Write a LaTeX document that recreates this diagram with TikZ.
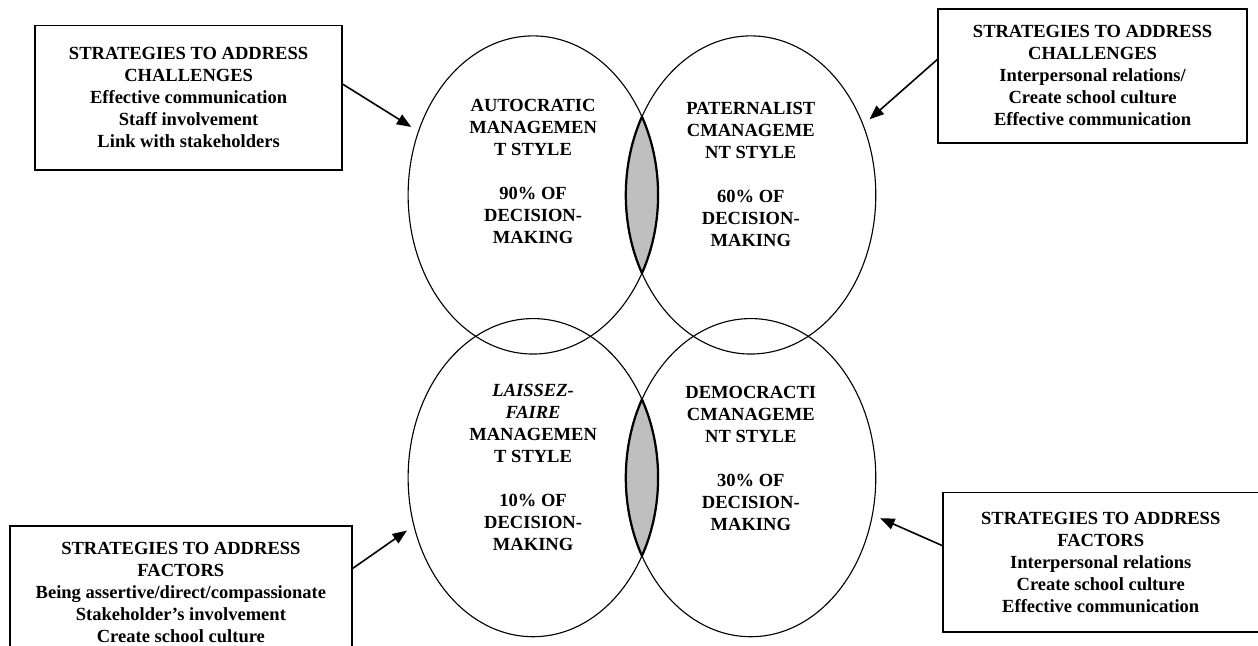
\documentclass[tikz,border=0pt]{standalone}
\usepackage{fontspec}
\setmainfont{Liberation Serif}
\usepackage{tikz}
\usetikzlibrary{
    % positioning,
    arrows.meta,
    shapes.geometric
}
\tikzset{
    every picture/.style = {
        > = {Triangle[length = 9pt, width = 7pt]}
    },
    strategy/.style = {
        draw,
        line width = 1pt,
        align = center,
        inner sep = 2pt
    },
    mgmt/.style = {
        ellipse,
        draw,
        line width = 0.7pt,
        minimum width = 5.5cm,
        minimum height = 7cm,
        inner sep = 0pt
    },
    mgmt text/.style = {
        align = center,
        inner sep = 0pt
    },
    oval radii/.style = {
        x radius = 2.75cm,
        y radius = 3.5cm
    },
    overlap/.style = {
        draw,
        line width = 1.4pt
    },
    pointer/.style = {
        ->,
        line width = 1pt,
        shorten > = 5pt
    }
}

\begin{document}
\begin{tikzpicture}[font = \fontsize{11.6}{13.8}\selectfont\bfseries]
    \useasboundingbox (0, 0) rectangle (27.68, 14.21);

    % the four management styles
    \node[mgmt] (autocratic) at (11.73, 9.92) {};
    \node[mgmt] (paternalist) at (16.52, 9.92) {};
    \node[mgmt] (laissezfaire) at (11.73, 3.70) {};
    \node[mgmt] (democratic) at (16.52, 3.70) {};

    % shaded overlaps
    \begin{scope}
        \clip (autocratic.center) ellipse [oval radii];
        \draw[overlap, fill = gray!50] (paternalist.center) ellipse [oval radii];
    \end{scope}
    \begin{scope}
        \clip (paternalist.center) ellipse [oval radii];
        \draw[overlap] (autocratic.center) ellipse [oval radii];
    \end{scope}
    \begin{scope}
        \clip (laissezfaire.center) ellipse [oval radii];
        \draw[overlap, fill = gray!50] (democratic.center) ellipse [oval radii];
    \end{scope}
    \begin{scope}
        \clip (democratic.center) ellipse [oval radii];
        \draw[overlap] (laissezfaire.center) ellipse [oval radii];
    \end{scope}

    \node[mgmt text] (autocratictext) at ([yshift = 5.2mm] autocratic.center)
        {AUTOCRATIC\\ MANAGEMEN\\ T STYLE\\[\baselineskip] 90\% OF\\ DECISION-\\ MAKING};
    \node[mgmt text] (paternalisttext) at ([yshift = 4.5mm] paternalist.center)
        {PATERNALIST\\ CMANAGEME\\ NT STYLE\\[\baselineskip] 60\% OF\\ DECISION-\\ MAKING};
    \node[mgmt text] (laissezfairetext) at ([yshift = 2.3mm] laissezfaire.center)
        {\itshape LAISSEZ-\\ \itshape FAIRE\\ MANAGEMEN\\ T STYLE\\[\baselineskip] 10\% OF\\ DECISION-\\ MAKING};
    \node[mgmt text] (democratictext) at ([yshift = 4.3mm] democratic.center)
        {DEMOCRACTI\\ CMANAGEME\\ NT STYLE\\[\baselineskip] 30\% OF\\ DECISION-\\ MAKING};

    % strategy boxes
    \node[strategy, minimum width = 6.75cm, minimum height = 3.17cm] (challengesA) at (4.15, 12.06)
        {STRATEGIES TO ADDRESS\\ CHALLENGES\\ Effective communication\\ Staff involvement\\ Link with stakeholders};
    \node[strategy, minimum width = 6.80cm, minimum height = 2.95cm] (challengesB) at (24.04, 12.54)
        {STRATEGIES TO ADDRESS\\ CHALLENGES\\ Interpersonal relations/\\ Create school culture\\ Effective communication};
    \node[strategy, minimum width = 7.52cm, minimum height = 2.93cm] (factorsA) at (3.98, 1.17)
        {STRATEGIES TO ADDRESS\\ FACTORS\\ Being assertive/direct/compassionate\\ Stakeholder’s involvement\\ Create school culture};
    \node[strategy, minimum width = 6.95cm, minimum height = 3.06cm] (factorsB) at (24.22, 1.84)
        {STRATEGIES TO ADDRESS\\ FACTORS\\ Interpersonal relations\\ Create school culture\\ Effective communication};

    \draw[pointer] (challengesA.5) -- (autocratic.151);
    \draw[pointer] (challengesB.174) -- (paternalist.32);
    \draw[pointer] (factorsA.8) -- (laissezfaire.202);
    \draw[pointer] (factorsB.174) -- (democratic.343);
\end{tikzpicture}
\end{document}
